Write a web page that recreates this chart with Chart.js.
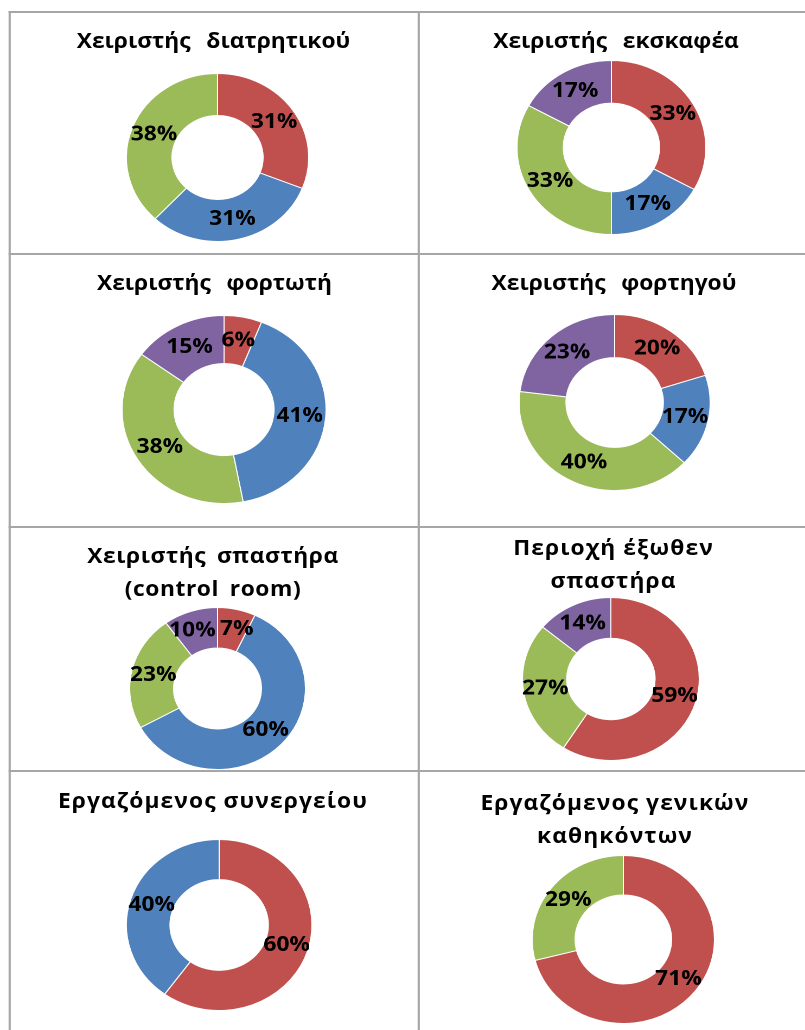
<!DOCTYPE html>
<html lang="el">
<head>
<meta charset="utf-8">
<title>Κατανομή ανά θέση εργασίας</title>
<script src="https://cdn.jsdelivr.net/npm/chart.js@4.4.1/dist/chart.umd.min.js"></script>
<style>
    html, body { margin: 0; padding: 0; background: #fff; overflow: hidden; }
    #sheet { position: absolute; left: 0; top: 0; width: 742px; height: 1030px; transform-origin: 0 0; }
    .rule { position: absolute; background: #a6a6a6; }
    .title {
        position: absolute; text-align: center; white-space: pre; color: #000;
        font-family: 'Open Sans', sans-serif; font-weight: 700; font-size: 21px; line-height: 33px;
    }
    .donut { position: absolute; }
</style>
</head>
<body>
<div id="sheet"></div>
<script>
/* ── Data ─────────────────────────────────────────────── */
var categories = ['A', 'B', 'C', 'D'];
var colors = ['#C0504D', '#4F81BD', '#9BBB59', '#8064A2'];

var drillOperator     = [31, 31, 38, 0];
var excavatorOperator = [33, 17, 33, 17];
var loaderOperator    = [6, 41, 38, 15];
var truckOperator     = [20, 17, 40, 23];
var crusherOperator   = [7, 60, 23, 10];
var crusherOutside    = [59, 0, 27, 14];
var workshopWorker    = [60, 40, 0, 0];
var generalWorker     = [71, 0, 29, 0];

var titles = [
    ['Χειριστής διατρητικού'],
    ['Χειριστής εκσκαφέα'],
    ['Χειριστής φορτωτή'],
    ['Χειριστής φορτηγού'],
    ['Χειριστής σπαστήρα', '(control room)'],
    ['Περιοχή έξωθεν', 'σπαστήρα'],
    ['Εργαζόμενος συνεργείου'],
    ['Εργαζόμενος γενικών', 'καθηκόντων']
];
var series = [drillOperator, excavatorOperator, loaderOperator, truckOperator,
              crusherOperator, crusherOutside, workshopWorker, generalWorker];

/* ── Layout (page pixels) ─────────────────────────────── */
var SX = 1.085; // the page is a little wider than tall
var cells = [
    { cx: 218,   cy: 157,   r: 84,   cut: '50%', tx: 213.5, base: 48,  gap: 9, ls: 0 },
    { cx: 611,   cy: 147,   r: 87,   cut: '51%', tx: 616,   base: 48,  gap: 9, ls: 0 },
    { cx: 224.5, cy: 409,   r: 94,   cut: '49%', tx: 214.5, base: 290, gap: 9, ls: 0 },
    { cx: 615,   cy: 402,   r: 88,   cut: '51%', tx: 614,   base: 290, gap: 9, ls: 0 },
    { cx: 217.7, cy: 688,   r: 81,   cut: '50%', tx: 213,   base: 563, gap: 4, ls: 0.5 },
    { cx: 611,   cy: 678.5, r: 81.5, cut: '50%', tx: 613.5, base: 555, gap: 0, ls: 1 },
    { cx: 219,   cy: 924.5, r: 85.5, cut: '53%', tx: 213,   base: 808, gap: 0, ls: 1 },
    { cx: 623,   cy: 939,   r: 84,   cut: '53%', tx: 615,   base: 810, gap: 0, ls: 1 }
];
var vRules = [8.5, 417.5];
var hRules = [11, 252.5, 526, 770];

(function () {
    var sheet = document.getElementById('sheet');
    sheet.style.transform = 'scaleX(' + SX + ')';

    // Grid lines
    vRules.forEach(function (x) {
        addRule(x / SX, 11, 2 / SX, 1030 - 11);
    });
    hRules.forEach(function (y) {
        addRule(8.5 / SX, y, (805 - 8.5) / SX, 2);
    });

    function addRule(l, t, w, h) {
        var d = document.createElement('div');
        d.className = 'rule';
        d.style.left = l + 'px'; d.style.top = t + 'px';
        d.style.width = w + 'px'; d.style.height = h + 'px';
        sheet.appendChild(d);
    }

    /* ── Percent labels inside the ring ───────────────── */
    var ringLabels = {
        id: 'ringLabels',
        afterDatasetsDraw: function (chart) {
            var ctx = chart.ctx;
            var ds = chart.data.datasets[0];
            ctx.save();
            ctx.font = 'bold 21px "Open Sans", sans-serif';
            ctx.fillStyle = '#000';
            ctx.textAlign = 'center';
            ctx.textBaseline = 'middle';

            var items = chart.getDatasetMeta(0).data.map(function (arc, i) {
                var p = arc.tooltipPosition();
                var txt = ds.data[i] + '%';
                return { x: p.x, y: p.y, w: ctx.measureText(txt).width, txt: txt };
            });
            // push apart labels that sit on top of each other
            for (var i = 0; i < items.length; i++) {
                var a = items[i], b = items[(i + 1) % items.length];
                if (a === b || Math.abs(a.y - b.y) > 16) continue;
                var over = (a.w + b.w) / 2 + 4 - Math.abs(a.x - b.x);
                if (over > 0) {
                    var dir = a.x < b.x ? -1 : 1;
                    a.x += dir * over / 2;
                    b.x -= dir * over / 2;
                }
            }
            items.forEach(function (it) { ctx.fillText(it.txt, it.x, it.y); });
            ctx.restore();
        }
    };

    /* ── Charts ───────────────────────────────────────── */
    cells.forEach(function (c, k) {
        // title
        var t = document.createElement('div');
        t.className = 'title';
        t.textContent = titles[k].join('\n');
        t.style.wordSpacing = c.gap + 'px';
        t.style.letterSpacing = c.ls + 'px';
        t.style.left = (c.tx / SX - 180) + 'px';
        t.style.width = '360px';
        t.style.top = (c.base - 24.5) + 'px';
        sheet.appendChild(t);

        // doughnut
        var size = 2 * c.r + 1;
        var box = document.createElement('div');
        box.className = 'donut';
        box.style.left = (c.cx / SX - size / 2) + 'px';
        box.style.top = (c.cy - size / 2) + 'px';
        box.style.width = size + 'px';
        box.style.height = size + 'px';
        var cv = document.createElement('canvas');
        box.appendChild(cv);
        sheet.appendChild(box);

        var labels = [], data = [], bg = [];
        series[k].forEach(function (v, i) {
            if (!v) return;
            labels.push(categories[i]);
            data.push(v);
            bg.push(colors[i]);
        });

        new Chart(cv, {
            type: 'doughnut',
            data: {
                labels: labels,
                datasets: [{ data: data, backgroundColor: bg, borderColor: '#fff', borderWidth: 1 }]
            },
            options: {
                responsive: true,
                maintainAspectRatio: false,
                animation: false,
                devicePixelRatio: 2,
                cutout: c.cut,
                layout: { padding: 0 },
                plugins: { legend: { display: false }, tooltip: { enabled: false } },
                events: []
            },
            plugins: [ringLabels]
        });
    });
})();
</script>
</body>
</html>
